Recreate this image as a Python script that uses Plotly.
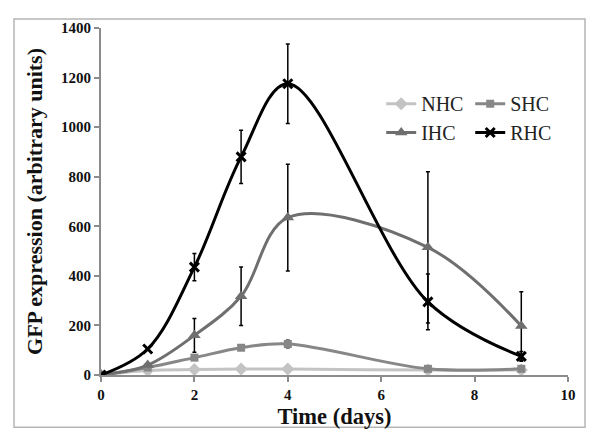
import plotly.graph_objects as go

days = [0, 1, 2, 3, 4, 7, 9]
nhc = [0, 18, 22, 24, 24, 20, 20]
shc = [0, 30, 70, 110, 125, 25, 25]
ihc = [0, 40, 160, 318, 635, 515, 198]
rhc = [0, 105, 435, 880, 1175, 295, 75]
nhc_err = [0, 0, 0, 0, 0, 0, 0]
shc_err = [0, 0, 0, 0, 15, 0, 0]
ihc_err = [0, 0, 68, 118, 215, 305, 138]
rhc_err = [0, 0, 55, 107, 160, 112, 20]

series = [
    ("NHC", nhc, nhc_err, "#c3c3c3", "diamond", 10, "legend"),
    ("SHC", shc, shc_err, "#878787", "square", 8, "legend"),
    ("IHC", ihc, ihc_err, "#6f6f6f", "triangle-up", 11, "legend2"),
    ("RHC", rhc, rhc_err, "#000000", "x-thin", 9, "legend2"),
]

fig = go.Figure()
for name, vals, err, col, sym, size, leg in series:
    marker = dict(symbol=sym, size=size, color=col)
    if sym == "x-thin":
        marker["line"] = dict(width=3, color=col)
    fig.add_trace(go.Scatter(
        x=days, y=vals, name=name, mode="lines+markers",
        line=dict(color=col, width=3, shape="spline", smoothing=1),
        marker=marker,
        error_y=dict(type="data", array=err, visible=True, color="black",
                     thickness=1.5, width=2),
        legend=leg,
    ))

serif = "Liberation Serif, Times New Roman, serif"
legfont = dict(family=serif, size=20, color="#222")
# page body has an 8px margin, so the figure is sized/offset to compensate
fig.update_layout(
    width=592, height=437,
    margin=dict(l=93, r=32, t=15, b=70),
    paper_bgcolor="white", plot_bgcolor="white",
    font=dict(family=serif),
    legend=dict(orientation="h", x=0.60, y=0.782, xanchor="left", yanchor="middle",
                font=legfont, entrywidth=44, bgcolor="rgba(0,0,0,0)",
                itemwidth=30, tracegroupgap=0),
    legend2=dict(orientation="h", x=0.60, y=0.699, xanchor="left", yanchor="middle",
                 font=legfont, entrywidth=44, bgcolor="rgba(0,0,0,0)",
                 itemwidth=30, tracegroupgap=0),
    xaxis=dict(range=[0, 10], tickvals=[0, 2, 4, 6, 8, 10], showgrid=False, zeroline=False,
               showline=True, linecolor="#8c8c8c", linewidth=2, ticks="outside",
               ticklen=5, tickcolor="#8c8c8c", tickwidth=2,
               tickfont=dict(family=serif, size=15, color="#111", weight="bold"),
               title=dict(text="<b>Time (days)</b>", font=dict(family=serif, size=22.5, color="#111"),
                          standoff=6)),
    yaxis=dict(range=[0, 1400], tickvals=list(range(0, 1401, 200)), showgrid=False, zeroline=False,
               showline=True, linecolor="#8c8c8c", linewidth=2, ticks="outside",
               ticklen=5, tickcolor="#8c8c8c", tickwidth=2,
               tickfont=dict(family=serif, size=15, color="#111", weight="bold"),
               title=dict(text="<b>GFP expression (arbitrary units)</b>",
                          font=dict(family=serif, size=22, color="#111"), standoff=12)),
    shapes=[dict(type="rect", xref="paper", yref="paper", x0=-0.1863, x1=1.0364,
                 y0=-0.1506, y1=1.0256, line=dict(color="#b5b5b5", width=1.5),
                 fillcolor="rgba(0,0,0,0)", layer="below")],
)
fig.write_html("out.html")
